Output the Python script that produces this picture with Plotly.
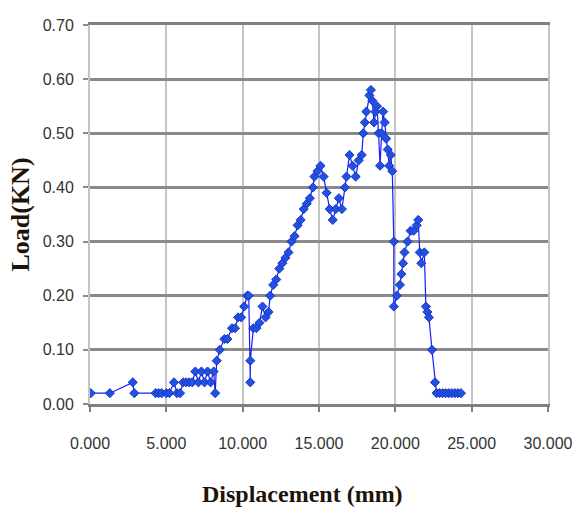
import plotly.graph_objects as go

# Load-displacement record of the specimen (displacement in mm, load in kN)
displacement = [
    0.05, 1.3, 2.8, 2.9, 4.3, 4.5, 4.7, 5.0, 5.2, 5.5, 5.7, 5.9, 6.1, 6.3, 6.5,
    6.7, 6.9, 7.1, 7.3, 7.5, 7.7, 7.9, 8.1, 8.2, 8.3, 8.5, 8.8, 9.0, 9.3, 9.5,
    9.7, 9.9, 10.1, 10.3, 10.4, 10.5, 10.5, 10.7, 10.9, 11.1, 11.3, 11.5, 11.7,
    11.8, 12.0, 12.2, 12.4, 12.6, 12.8, 13.0, 13.2, 13.4, 13.6, 13.8, 14.0,
    14.2, 14.4, 14.6, 14.7, 14.9, 15.1, 15.3, 15.5, 15.7, 15.9, 16.1, 16.3,
    16.5, 16.7, 16.8, 17.0, 17.2, 17.4, 17.6, 17.8, 17.9, 18.0, 18.1, 18.3,
    18.4, 18.5, 18.6, 18.7, 18.8, 18.9, 19.0, 19.1, 19.2, 19.3, 19.4, 19.5,
    19.6, 19.7, 19.8, 19.9, 19.9, 20.1, 20.3, 20.4, 20.5, 20.6, 20.8, 21.0,
    21.2, 21.4, 21.5, 21.6, 21.7, 21.9, 22.0, 22.1, 22.2, 22.4, 22.6, 22.7,
    22.9, 23.1, 23.3, 23.5, 23.7, 23.9, 24.1, 24.3,
]
load = [
    0.02, 0.02, 0.04, 0.02, 0.02, 0.02, 0.02, 0.02, 0.02, 0.04, 0.02, 0.02,
    0.04, 0.04, 0.04, 0.04, 0.06, 0.04, 0.06, 0.04, 0.06, 0.04, 0.06, 0.02,
    0.08, 0.10, 0.12, 0.12, 0.14, 0.14, 0.16, 0.16, 0.18, 0.20, 0.20, 0.04,
    0.08, 0.14, 0.14, 0.15, 0.18, 0.16, 0.17, 0.20, 0.22, 0.23, 0.25, 0.26,
    0.27, 0.28, 0.30, 0.31, 0.33, 0.34, 0.36, 0.37, 0.38, 0.40, 0.42, 0.43,
    0.44, 0.42, 0.39, 0.36, 0.34, 0.36, 0.38, 0.36, 0.40, 0.42, 0.46, 0.44,
    0.42, 0.45, 0.46, 0.50, 0.52, 0.54, 0.57, 0.58, 0.56, 0.52, 0.54, 0.55,
    0.50, 0.44, 0.50, 0.54, 0.52, 0.49, 0.47, 0.44, 0.46, 0.43, 0.30, 0.18,
    0.20, 0.22, 0.24, 0.26, 0.28, 0.30, 0.32, 0.32, 0.33, 0.34, 0.28, 0.26,
    0.28, 0.18, 0.17, 0.16, 0.10, 0.04, 0.02, 0.02, 0.02, 0.02, 0.02, 0.02,
    0.02, 0.02, 0.02,
]

x_ticks = [0, 5, 10, 15, 20, 25, 30]
x_tick_text = ["0.000", "5.000", "10.000", "15.000", "20.000", "25.000", "30.000"]
y_ticks = [0.0, 0.1, 0.2, 0.3, 0.4, 0.5, 0.6, 0.7]
y_tick_text = ["0.00", "0.10", "0.20", "0.30", "0.40", "0.50", "0.60", "0.70"]

tick_font = dict(family="Liberation Sans, Arial, sans-serif", size=16, color="#333333")
title_font = dict(family="Liberation Serif, Times New Roman, serif", color="#1c140a")

fig = go.Figure()
fig.add_trace(go.Scatter(
    x=displacement, y=load,
    mode="lines+markers",
    line=dict(color="#1a1aff", width=1.2),
    marker=dict(symbol="diamond", size=7, color="#2350e0",
                line=dict(color="#1838c8", width=1)),
    showlegend=False,
))

fig.update_layout(
    width=576, height=510,
    margin=dict(l=90, r=28, t=25, b=106, autoexpand=False),
    paper_bgcolor="white", plot_bgcolor="white",
    xaxis=dict(
        range=[0, 30], tickvals=x_ticks, ticktext=x_tick_text,
        automargin=False,
        showgrid=True, gridcolor="#c4c4c4", gridwidth=2,
        zeroline=False,
        showline=True, linecolor="#808080", linewidth=2.5, mirror=True,
        ticks="outside", ticklen=5, tickcolor="#808080", tickwidth=1.5,
        tickfont=tick_font, ticklabelstandoff=18,
    ),
    yaxis=dict(
        range=[0, 0.7], tickvals=y_ticks, ticktext=y_tick_text,
        automargin=False,
        showgrid=True, gridcolor="#8a8a8a", gridwidth=2.5,
        zeroline=False,
        showline=True, linecolor="#c4c4c4", linewidth=2, mirror=True,
        ticks="outside", ticklen=5, tickcolor="#8a8a8a", tickwidth=1.5,
        tickfont=tick_font, ticklabelstandoff=6,
        title=dict(text="<b>Load(KN)</b>",
                   font=dict(size=26, **title_font), standoff=6),
    ),
    annotations=[dict(
        text="<b>Displacement (mm)</b>",
        xref="paper", yref="paper", x=0.463, y=0,
        xanchor="center", yanchor="middle", yshift=-90,
        showarrow=False, font=dict(size=24, **title_font),
    )],
)

fig.write_html("out.html")
